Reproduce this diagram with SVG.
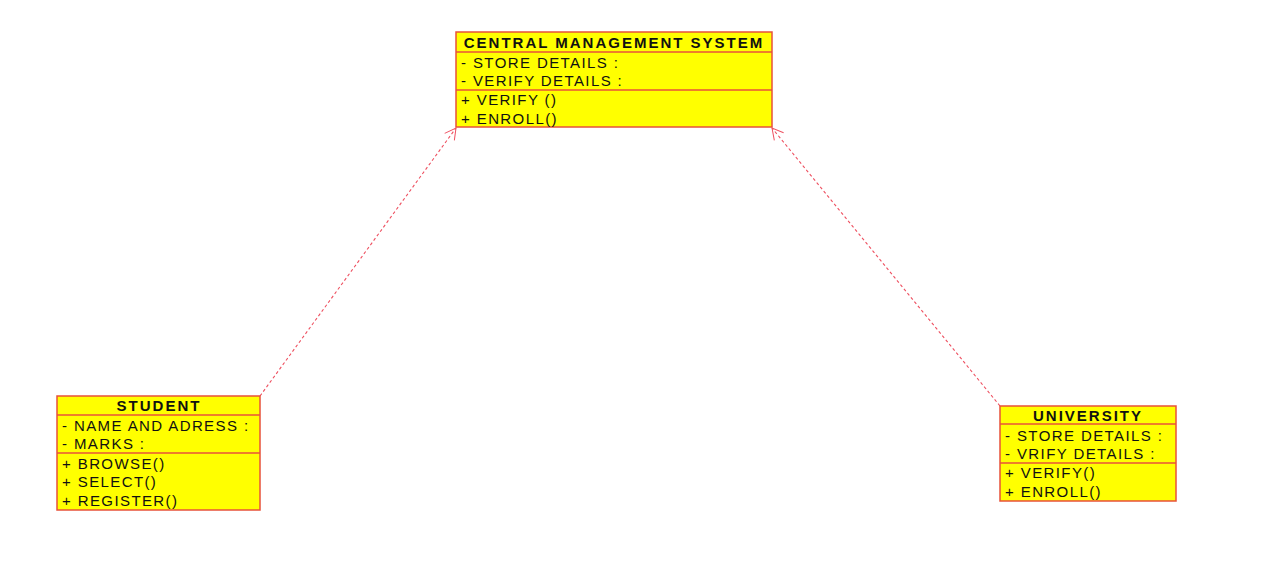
<svg xmlns="http://www.w3.org/2000/svg" width="1280" height="574" viewBox="0 0 1280 574">
<style>
.box{fill:#ffff00;stroke:#e8523a;stroke-width:1.5}
.sep{stroke:#e8523a;stroke-width:1.5}
.t{font-family:"Liberation Sans",Arial,sans-serif;font-size:15px;fill:#111;letter-spacing:1.4px}
.h{font-family:"Liberation Sans",Arial,sans-serif;font-size:15px;font-weight:bold;fill:#111;letter-spacing:2px;text-anchor:middle}
.dep{stroke:#ee5060;stroke-width:1.1;stroke-dasharray:3,2.5;fill:none}
</style>
<defs>
<marker id="open" markerWidth="14" markerHeight="14" refX="12" refY="7" orient="auto" markerUnits="userSpaceOnUse">
<path d="M1,1 L12,7 L1,13" fill="none" stroke="#ee5060" stroke-width="1"/>
</marker>
</defs>
<rect width="1280" height="574" fill="#fff"/>
<g id="connectors">
<line class="dep" x1="260" y1="396" x2="456" y2="128" marker-end="url(#open)"/>
<line class="dep" x1="1000" y1="406" x2="772" y2="128" marker-end="url(#open)"/>
</g>
<g id="cms">
<rect class="box" x="456" y="32" width="316" height="95"/>
<line class="sep" x1="456" y1="52" x2="772" y2="52"/>
<line class="sep" x1="456" y1="90" x2="772" y2="90"/>
<text class="h" x="614" y="47.5">CENTRAL MANAGEMENT SYSTEM</text>
<text class="t" x="461" y="67.5">- STORE DETAILS :</text>
<text class="t" x="461" y="85.5">- VERIFY DETAILS :</text>
<text class="t" x="461" y="105">+ VERIFY ()</text>
<text class="t" x="461" y="123.5">+ ENROLL()</text>
</g>
<g id="student">
<rect class="box" x="57" y="396" width="203" height="114"/>
<line class="sep" x1="57" y1="415" x2="260" y2="415"/>
<line class="sep" x1="57" y1="453" x2="260" y2="453"/>
<text class="h" x="159" y="411">STUDENT</text>
<text class="t" x="62" y="430.5">- NAME AND ADRESS :</text>
<text class="t" x="62" y="448.5">- MARKS :</text>
<text class="t" x="62" y="468.5">+ BROWSE()</text>
<text class="t" x="62" y="487">+ SELECT()</text>
<text class="t" x="62" y="505.5">+ REGISTER()</text>
</g>
<g id="university">
<rect class="box" x="1000" y="406" width="176" height="95"/>
<line class="sep" x1="1000" y1="424" x2="1176" y2="424"/>
<line class="sep" x1="1000" y1="463" x2="1176" y2="463"/>
<text class="h" x="1088" y="420.5">UNIVERSITY</text>
<text class="t" x="1005" y="440.5">- STORE DETAILS :</text>
<text class="t" x="1005" y="458.5">- VRIFY DETAILS :</text>
<text class="t" x="1005" y="478">+ VERIFY()</text>
<text class="t" x="1005" y="496.5">+ ENROLL()</text>
</g>
</svg>
